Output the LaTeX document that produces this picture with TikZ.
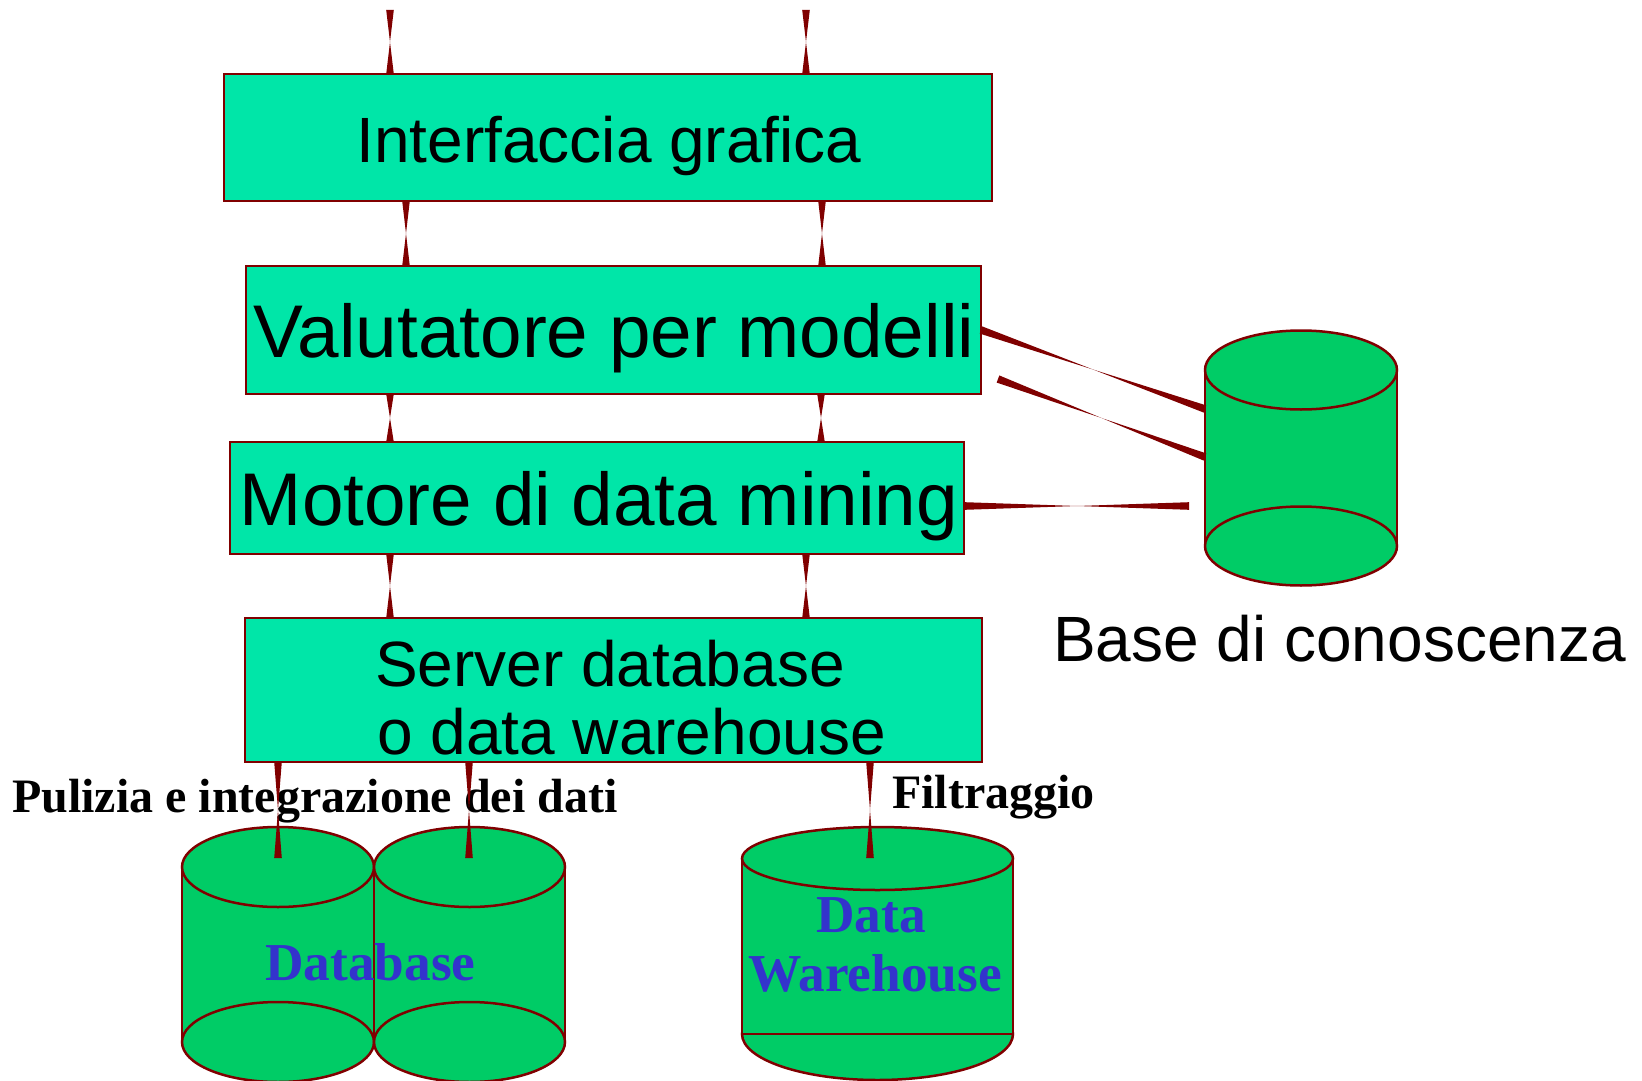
\documentclass[tikz,border=0pt]{standalone}
\usepackage{fontspec}
\setmainfont{Liberation Sans}
\newfontfamily\tnr{Liberation Serif}
\usetikzlibrary{calc}
\definecolor{mint}{RGB}{0,230,168}
\definecolor{cylgreen}{RGB}{0,204,102}
\definecolor{edge}{RGB}{128,0,0}
\definecolor{dbblue}{RGB}{51,51,204}
\tikzset{
  box/.style={draw=edge, line width=2pt, fill=mint, inner sep=0pt, outer sep=0pt},
  bigtxt/.style={font=\fontsize{74.67}{80}\selectfont, inner sep=0pt, anchor=base},
  medtxt/.style={font=\fontsize{64}{68}\selectfont, inner sep=0pt, anchor=base},
  lbltxt/.style={font=\tnr\bfseries\fontsize{48}{52}\selectfont, inner sep=0pt, anchor=base west},
  dbtxt/.style={font=\tnr\bfseries\fontsize{53.33}{58}\selectfont, text=dbblue, inner sep=0pt, anchor=base west},
  cylpart/.style={draw=edge, line width=2.5pt, fill=cylgreen},
  cylside/.style={draw=edge, line width=2.5pt},
  connfill/.style={fill=edge}
}
% double tapered connector between two named points
\newcommand\dbl[2]{%
  \fill[connfill] ($(#1)!3.8pt!90:(#2)$) -- ($(#1)!0.5!(#2)$) -- ($(#2)!3.8pt!-90:(#1)$)
    -- ($(#2)!3.8pt!90:(#1)$) -- ($(#1)!0.5!(#2)$) -- ($(#1)!3.8pt!-90:(#2)$) -- cycle;}
% cylinder: cx, rx, top cy, bottom cy, ry
\newcommand\cylinder[5]{%
  \fill[cylgreen] (#1-#2,#3) rectangle (#1+#2,#4);
  \draw[cylside] (#1-#2,#3) -- (#1-#2,#4) (#1+#2,#3) -- (#1+#2,#4);
  \filldraw[cylpart] (#1,#4) ellipse [x radius=#2, y radius=#5];
  \filldraw[cylpart] (#1,#3) ellipse [x radius=#2, y radius=#5];}
\begin{document}
\begin{tikzpicture}[x=1pt, y=-1pt]
\useasboundingbox (0,0) rectangle (1642,1081);
\clip (0,0) rectangle (1642,1081);

% boxes
\node[box, minimum width=768pt, minimum height=127pt] (ig) at (608,137.5) {};
\node[box, minimum width=735pt, minimum height=128pt] (vm) at (613.5,330) {};
\node[box, minimum width=734pt, minimum height=112pt] (mdm) at (597,498) {};
\node[box, minimum width=737pt, minimum height=144pt] (sdb) at (613.5,690) {};

\node[medtxt] (igt) at (609,162) {Interfaccia grafica};
\node[bigtxt] (vmt) at (614,357) {Valutatore per modelli};
\node[bigtxt] (mdmt) at (599,525) {Motore di data mining};
\node[medtxt, anchor=base west] (sdbt1) at (375,686) {Server database};
\node[medtxt, anchor=base west] (sdbt2) at (377,754) {o data warehouse};

% cylinders
\cylinder{1301}{96}{370}{546}{39.5}
\cylinder{278}{96}{867}{1042}{40}
\cylinder{469.5}{95.5}{867}{1042}{40}
% data warehouse cylinder
\filldraw[cylpart] (877.5,1034) ellipse [x radius=135.5, y radius=46];
\filldraw[cylpart] (742,858.5) rectangle (1013,1034);
\filldraw[cylpart] (877.5,858.5) ellipse [x radius=135.5, y radius=31.5];

% texts
\node[medtxt, anchor=base west] (kbt) at (1053,661) {Base di conoscenza};
\node[lbltxt] (pul) at (12,812) {Pulizia e integrazione dei dati};
\node[lbltxt] (filt) at (892,808) {Filtraggio};
\node[dbtxt] (dbt) at (265,980) {Database};
\node[dbtxt] (dwt1) at (816,932) {Data};
\node[dbtxt] (dwt2) at (748,991) {Warehouse};

% connector end points
\coordinate (t1) at (390,10);
\coordinate (t2) at (806,10);
\coordinate (a1) at (406,201);
\coordinate (a2) at (822,201);
\coordinate (b1) at (390,394);
\coordinate (b2) at (821,394);
\coordinate (c1) at (390,554);
\coordinate (c2) at (806,554);
\coordinate (d1) at (278,762);
\coordinate (d2) at (469,762);
\coordinate (d3) at (870,762);
\coordinate (db1) at (278,858);
\coordinate (db2) at (469,858);
\coordinate (dw) at (870,858);
\coordinate (kb1) at (1205,409);
\coordinate (kb2) at (1205,457);
\coordinate (kb3) at (1189,506);
\coordinate (fl) at (998,379);
\coordinate (me) at (965,506);

% connectors
\dbl{t1}{ig.north -| t1}
\dbl{t2}{ig.north -| t2}
\dbl{a1}{vm.north -| a1}
\dbl{a2}{vm.north -| a2}
\dbl{b1}{mdm.north -| b1}
\dbl{b2}{mdm.north -| b2}
\dbl{c1}{sdb.north -| c1}
\dbl{c2}{sdb.north -| c2}
\dbl{d1}{db1}
\dbl{d2}{db2}
\dbl{d3}{dw}
\dbl{vm.east}{kb1}
\dbl{fl}{kb2}
\dbl{me}{kb3}
\end{tikzpicture}
\end{document}
